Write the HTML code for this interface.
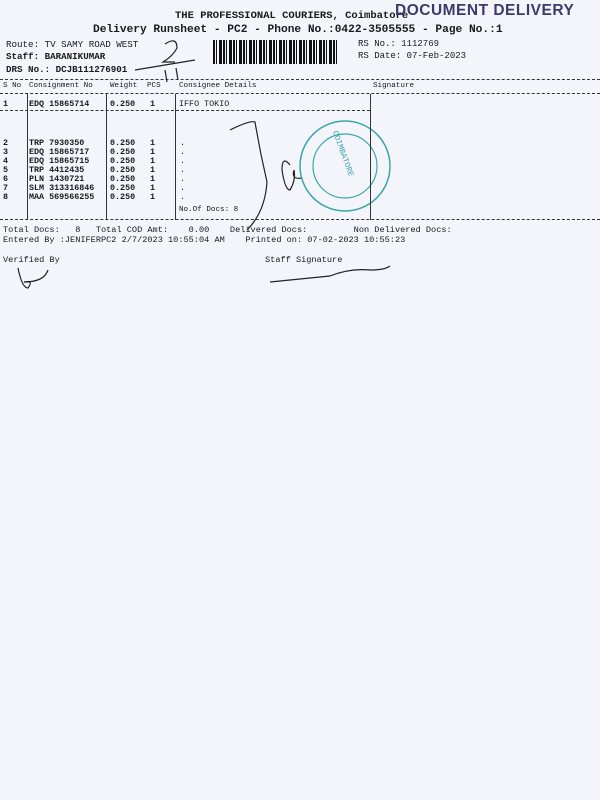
<!DOCTYPE html>
<html><head><meta charset="utf-8"><style>
body{margin:0;width:600px;height:800px;background:#f4f4fb;position:relative;overflow:hidden;font-family:"Liberation Mono",monospace;color:#1a1a1a}
.t{position:absolute;white-space:pre;line-height:1}
.h{border-top:1px dashed #333;position:absolute;left:0;width:600px;height:0}
.v{position:absolute;width:0;border-left:1px solid #333;top:94px;height:126px}
.s{font-size:7.6px}
.r{font-size:8.4px;font-weight:bold;line-height:9px}
</style></head><body>
<div class="t" style="left:175px;top:11px;font-size:10.5px;font-weight:bold">THE PROFESSIONAL COURIERS, Coimbatore</div>
<div class="t" style="left:395px;top:3px;font-size:15.5px;font-weight:bold;color:#3b3b6b;letter-spacing:0.5px;font-family:'Liberation Sans',sans-serif">DOCUMENT DELIVERY</div>
<div class="t" style="left:93px;top:25px;font-size:11.2px;font-weight:bold">Delivery Runsheet - PC2 - Phone No.:0422-3505555 - Page No.:1</div>
<div class="t" style="left:6px;top:40px;font-size:9.2px">Route: TV SAMY ROAD WEST</div>
<div class="t" style="left:6px;top:52px;font-size:9.2px;font-weight:bold">Staff: BARANIKUMAR</div>
<div class="t" style="left:6px;top:65px;font-size:9.2px;font-weight:bold">DRS No.: DCJB111276901</div>
<div style="position:absolute;left:213px;top:40px;width:125px;height:24px;background:repeating-linear-gradient(90deg,#111 0 2px,transparent 2px 3px,#111 3px 4px,transparent 4px 6px,#111 6px 9px,transparent 9px 10px)"></div>
<div class="t" style="left:358px;top:40px;font-size:9px">RS No.: 1112769</div>
<div class="t" style="left:358px;top:52px;font-size:9px">RS Date: 07-Feb-2023</div>
<svg style="position:absolute;left:0;top:0" width="600" height="800" fill="none" stroke="#222" stroke-width="1.2">
<path d="M165 44 q12 -8 12 4 q-4 8 -14 14 l12 0"/><path d="M135 70 l60 -10"/><path d="M165 70 l2 12 M176 68 l2 12"/>
<path d="M230 130 q20 -10 25 -8 q5 30 12 60 q-2 30 -20 48"/>
<path d="M290 165 q-8 -10 -8 5 q3 20 8 20 q6 -10 4 -20 q-3 10 8 8"/>
<circle cx="345" cy="166" r="45" stroke="#3aa7a7" stroke-width="1.5"/><circle cx="345" cy="166" r="32" stroke="#3aa7a7"/>
<path d="M18 268 q4 20 10 20 q6 -8 -4 -6 q20 0 24 -12" /><path d="M270 282 q40 -4 60 -6 q20 -8 40 -6 q15 0 20 -4" />
</svg>
<div class="t" style="left:318px;top:150px;font-size:8px;color:#3aa7a7;transform:rotate(70deg)">COIMBATORE</div>
<div class="h" style="top:79px"></div>
<div class="h" style="top:93px"></div>
<div class="h" style="top:110px;width:370px"></div>
<div class="h" style="top:219px"></div>
<div class="v" style="left:27px"></div><div class="v" style="left:106px"></div><div class="v" style="left:175px"></div><div class="v" style="left:370px"></div>
<div class="t s" style="left:3px;top:83px">S No</div>
<div class="t s" style="left:29px;top:83px">Consignment No</div>
<div class="t s" style="left:110px;top:83px">Weight</div>
<div class="t s" style="left:147px;top:83px">PCS</div>
<div class="t s" style="left:179px;top:83px">Consignee Details</div>
<div class="t s" style="left:373px;top:83px">Signature</div>
<div class="t r" style="left:3px;top:100px">1</div>
<div class="t r" style="left:29px;top:100px">EDQ 15865714</div>
<div class="t r" style="left:110px;top:100px">0.250</div>
<div class="t r" style="left:150px;top:100px">1</div>
<div class="t r" style="left:179px;top:100px;font-weight:normal">IFFO TOKIO</div>
<div class="t r" style="left:3px;top:139px">2
3
4
5
6
7
8</div>
<div class="t r" style="left:29px;top:139px">TRP 7930350
EDQ 15865717
EDQ 15865715
TRP 4412435
PLN 1430721
SLM 313316846
MAA 569566255</div>
<div class="t r" style="left:110px;top:139px">0.250
0.250
0.250
0.250
0.250
0.250
0.250</div>
<div class="t r" style="left:150px;top:139px">1
1
1
1
1
1
1</div>
<div class="t r" style="left:180px;top:139px;font-weight:normal">.
.
.
.
.
.
.</div>
<div class="t s" style="left:179px;top:207px">No.Of Docs: 8</div>
<div class="t" style="left:3px;top:226px;font-size:8.6px">Total Docs:   8   Total COD Amt:    0.00    Delivered Docs:         Non Delivered Docs:</div>
<div class="t" style="left:3px;top:236px;font-size:8.6px">Entered By :JENIFERPC2 2/7/2023 10:55:04 AM    Printed on: 07-02-2023 10:55:23</div>
<div class="t" style="left:3px;top:256px;font-size:8.6px">Verified By</div>
<div class="t" style="left:265px;top:256px;font-size:8.6px">Staff Signature</div>
</body></html>
